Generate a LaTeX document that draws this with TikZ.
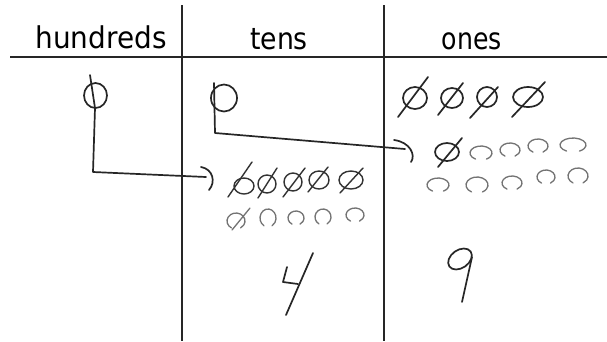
\documentclass[tikz,border=0pt]{standalone}
\usepackage{fontspec}
\setmainfont{DejaVu Sans}
\usepackage{graphicx}
% hand-drawn oval with a small gap at the top
\newcommand\openoval[5][faint]{%
  \draw[#1] (#2,#3) ++(120:#4 and #5)
    arc[start angle=120, end angle=420, x radius=#4, y radius=#5];}
% crossed-out counter: oval plus a slanted stroke
\newcommand\crossed[8][ink]{%
  \draw[#1] (#2,#3) ellipse[x radius=#4, y radius=#5];
  \draw[#1] (#6) -- (#7,#8);}
\begin{document}
\begin{tikzpicture}[x=1pt,y=-1pt,
  rule/.style={line width=1.4pt, black!85},
  ink/.style={line width=1.7pt, black!85, line cap=round, line join=round},
  pen/.style={line width=1.4pt, black!80, line cap=round, line join=round},
  faint/.style={line width=1.3pt, black!55, line cap=round, line join=round},
  head/.style={anchor=base, inner sep=0pt, font=\fontsize{30}{30}\selectfont}]
\useasboundingbox (0,0) rectangle (607,341);
\fill[white] (0,0) rectangle (607,341);

% column headings
\node[head] (hundreds) at (101,48) {\scalebox{0.93}[1]{hundreds}};
\node[head] (tens) at (279,49) {\scalebox{0.89}[1]{tens}};
\node[head] (ones) at (472,49) {\scalebox{0.84}[1]{ones}};

% table rules
\draw[rule, line width=1.8pt] (10,57) -- (607,57);
\draw[rule] (182,5) -- (182,341);
\draw[rule] (384,5) -- (384,341);

% hundreds: one crossed-out hundred, regrouped into the tens column
\coordinate (hTop) at (90,75);
\coordinate (hBend) at (93,172);
\coordinate (hTip) at (206,177);
\draw[ink] (95.5,95.5) ellipse[x radius=11.5, y radius=12.5];
\draw[ink] (hTop) -- (95,108) -- (hBend) -- (hTip);
\draw[ink] (201,167) .. controls (213,169) and (216,182) .. (209,190);

% tens: one crossed-out ten, regrouped into the ones column
\coordinate (tTop) at (214,83);
\coordinate (tBend) at (215,133);
\coordinate (tTip) at (405,149);
\draw[ink] (224,98) ellipse[x radius=13, y radius=13.5];
\draw[ink] (tTop) -- (tBend) -- (tTip);
\draw[ink] (394,140) .. controls (410,142) and (416,155) .. (411,162);

% tens: first row of counters, all crossed out
\coordinate (a1) at (228,197);
\coordinate (a2) at (258,198);
\coordinate (a3) at (283,197);
\coordinate (a4) at (308,192);
\coordinate (a5) at (340,193);
\crossed[pen]{244}{186}{10}{8}{a1}{252}{162}
\crossed[pen]{267}{184}{9}{9}{a2}{277}{168}
\crossed[pen]{293}{182}{9}{9}{a3}{305}{168}
\crossed[pen]{319}{180}{10}{9}{a4}{328}{167}
\crossed[pen]{351}{180}{12}{9}{a5}{363}{168}

% tens: second row of counters
\openoval{236}{221}{9}{8}
\draw[faint] (232,230) -- (250,208);
\openoval{268}{218}{8}{9}
\openoval{296}{218}{8}{7}
\openoval{323}{217}{8}{8}
\openoval{355}{215}{9}{7}

% tens answer: 4
\draw[ink] (287,267) -- (283,282) -- (298,284);
\draw[ink] (313,253) -- (286,315);

% ones: first row, all crossed out
\coordinate (b1) at (398,117);
\coordinate (b2) at (438,115);
\coordinate (b3) at (470,118);
\coordinate (b4) at (512,117);
\crossed{415}{98}{12}{11}{b1}{428}{77}
\crossed{452}{98}{11}{10}{b2}{463}{83}
\crossed{487}{97}{10}{10}{b3}{498}{87}
\crossed{528}{97}{15}{10}{b4}{545}{82}

% ones: second row
\coordinate (b5) at (438,167);
\crossed{447}{152}{12}{9}{b5}{462}{138}
\openoval{481}{153}{11}{7}
\openoval{510}{150}{10}{7}
\openoval{538}{146}{10}{7}
\openoval{573}{145}{13}{7}

% ones: third row
\openoval{438}{185}{11}{7}
\openoval{477}{185}{11}{8}
\openoval{512}{183}{10}{7}
\openoval{546}{177}{9}{7}
\openoval{578}{176}{10}{8}

% ones answer: 9
\draw[ink, rotate around={35:(460,259)}] (460,259) ellipse[x radius=13, y radius=9];
\draw[ink] (472,257) -- (462,302);
\end{tikzpicture}
\end{document}
